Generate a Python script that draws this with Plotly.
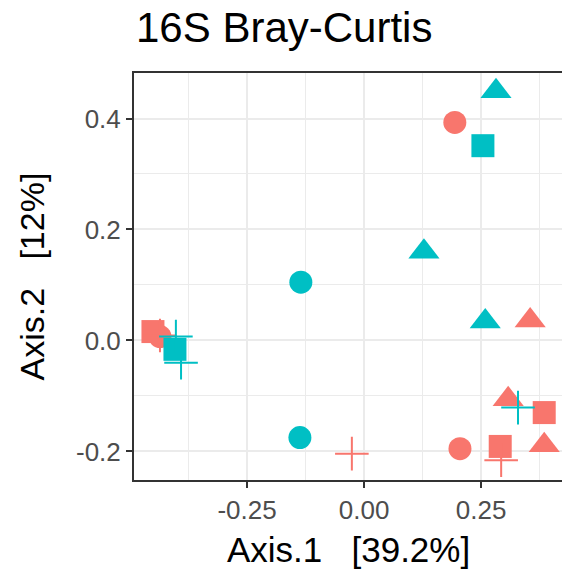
import plotly.graph_objects as go

# PCoA coordinates (Axis.1, Axis.2), group colour and shape per sample
red_axis1 = [0.194, 0.355, 0.205, 0.291, 0.293, 0.308, 0.385, 0.385, -0.026, -0.451, -0.436, -0.436]
red_axis2 = [0.393, 0.036, -0.195, -0.191, -0.216, -0.106, -0.130, -0.189, -0.204, 0.016, 0.007, 0.009]
red_shape = ["circle", "triangle", "circle", "square", "plus", "triangle", "square", "triangle",
             "plus", "square", "circle", "plus"]

cyan_axis1 = [0.282, 0.254, 0.128, -0.135, 0.259, -0.137, 0.329, -0.404, -0.402, -0.391]
cyan_axis2 = [0.449, 0.351, 0.160, 0.105, 0.034, -0.175, -0.121, -0.016, 0.007, -0.040]
cyan_shape = ["triangle", "square", "triangle", "circle", "triangle", "circle", "plus",
              "square", "plus", "plus"]

x_ticks = [-0.25, 0.0, 0.25]
x_ticktext = ["-0.25", "0.00", "0.25"]
y_ticks = [-0.2, 0.0, 0.2, 0.4]
y_ticktext = ["-0.2", "0.0", "0.2", "0.4"]

title_text = "16S Bray-Curtis"
x_title = "Axis.1   [39.2%]"
y_title = "Axis.2   [12%]"

RED = "#F8766D"
CYAN = "#00BFC4"

SYM = {"circle": "circle", "triangle": "triangle-up", "square": "square", "plus": "cross-thin-open"}
SIZE = {"circle": 23, "triangle": 27, "square": 23, "plus": 24}

fig = go.Figure()

def add_group(xs, ys, shapes, color):
    for shp in ["circle", "triangle", "square", "plus"]:
        idx = [i for i, s in enumerate(shapes) if s == shp]
        if not idx:
            continue
        fig.add_trace(go.Scatter(
            x=[xs[i] for i in idx], y=[ys[i] for i in idx], mode="markers",
            marker=dict(symbol=SYM[shp], size=SIZE[shp], color=color,
                        line=dict(color=color, width=2 if shp == "plus" else 0)),
            showlegend=False, hoverinfo="skip"))

add_group(red_axis1, red_axis2, red_shape, RED)
add_group(cyan_axis1, cyan_axis2, cyan_shape, CYAN)

FONT = "Liberation Sans, Arial, Helvetica, sans-serif"
GRID = "#EBEBEB"
LINE = "#333333"

fig.update_layout(
    width=562, height=571,
    margin=dict(l=134, r=0, t=73, b=91),
    paper_bgcolor="white", plot_bgcolor="white",
    font=dict(family=FONT, color="#4D4D4D"),
    xaxis=dict(range=[-0.4915, 0.4230], tickvals=x_ticks, ticktext=x_ticktext,
               showgrid=True, gridcolor=GRID, gridwidth=1.6,
               minor=dict(tickvals=[-0.375, -0.125, 0.125, 0.375], showgrid=True,
                          gridcolor=GRID, gridwidth=0.8),
               zeroline=False, showline=True, mirror=True, linecolor=LINE, linewidth=2,
               ticks="outside", ticklen=6, tickwidth=1.6, tickcolor=LINE,
               tickfont=dict(size=26, color="#4D4D4D", family=FONT)),
    yaxis=dict(range=[-0.2515, 0.4820], tickvals=y_ticks, ticktext=y_ticktext,
               showgrid=True, gridcolor=GRID, gridwidth=1.6,
               minor=dict(tickvals=[-0.1, 0.1, 0.3], showgrid=True,
                          gridcolor=GRID, gridwidth=0.8),
               zeroline=False, showline=True, mirror=False, linecolor=LINE, linewidth=2,
               ticks="outside", ticklen=6, tickwidth=1.6, tickcolor=LINE,
               tickfont=dict(size=26, color="#4D4D4D", family=FONT)),
    annotations=[
        dict(text=title_text, xref="paper", yref="paper", x=0.0, y=1.0,
             xanchor="left", yanchor="bottom", yshift=20, xshift=0, showarrow=False,
             font=dict(size=42, color="black", family=FONT)),
        dict(text=x_title, xref="paper", yref="paper", x=0.5, y=0.0,
             xanchor="center", yanchor="top", yshift=-48, xshift=0, showarrow=False,
             font=dict(size=35, color="black", family=FONT)),
        dict(text=y_title, xref="paper", yref="paper", x=0.0, y=0.5,
             xanchor="right", yanchor="middle", xshift=-82, textangle=-90, showarrow=False,
             font=dict(size=34, color="black", family=FONT)),
    ],
)

fig.write_html("out.html")
